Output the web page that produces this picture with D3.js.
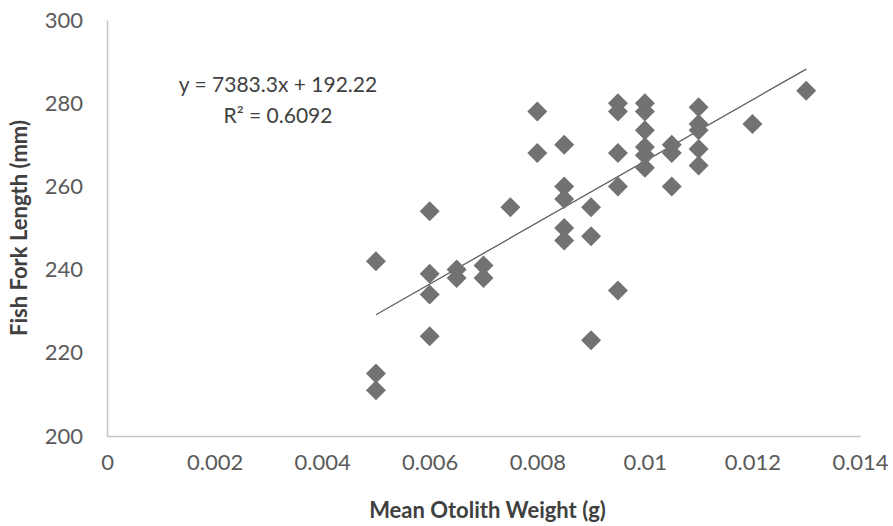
<!DOCTYPE html>
<html>
<head>
<meta charset="utf-8">
<script src="https://cdn.jsdelivr.net/npm/d3@7"></script>
<style>
  body { margin: 0; background: #fff; }
  svg { display: block; font-family: Lato, "Open Sans", sans-serif; }
</style>
</head>
<body>
<div id="chart"></div>
<script>
// values
const otolithWeight = [
  0.005, 0.005, 0.005,
  0.006, 0.006, 0.006, 0.006,
  0.0065, 0.0065,
  0.007, 0.007,
  0.0075,
  0.008, 0.008,
  0.0085, 0.0085, 0.0085, 0.0085, 0.0085,
  0.009, 0.009, 0.009,
  0.0095, 0.0095, 0.0095, 0.0095, 0.0095,
  0.01, 0.01, 0.01, 0.01, 0.01, 0.01,
  0.0105, 0.0105, 0.0105,
  0.011, 0.011, 0.011, 0.011, 0.011,
  0.012,
  0.013
];
const forkLength = [
  242, 215, 211,
  254, 239, 234, 224,
  240, 238,
  241, 238,
  255,
  278, 268,
  270, 260, 257, 250, 247,
  255, 248, 223,
  280, 278, 268, 260, 235,
  280, 278, 273.5, 269.5, 267.5, 264.5,
  270, 268, 260,
  279, 275, 273.5, 269, 265,
  275,
  283
];
const xTicks = [0, 0.002, 0.004, 0.006, 0.008, 0.01, 0.012, 0.014];
const yTicks = [200, 220, 240, 260, 280, 300];
const trendSlope = 7383.3;
const trendIntercept = 192.22;
const equationLines = ["y = 7383.3x + 192.22", "R² = 0.6092"];

const WIDTH = 893, HEIGHT = 526;
const MARGIN = { TOP: 20, BOTTOM: 90, LEFT: 107, RIGHT: 33 };

const svg = d3.select("#chart")
  .append("svg")
  .attr("width", WIDTH)
  .attr("height", HEIGHT);

const x = d3.scaleLinear().domain([0, 0.014]).range([MARGIN.LEFT, WIDTH - MARGIN.RIGHT]);
const y = d3.scaleLinear().domain([200, 300]).range([HEIGHT - MARGIN.BOTTOM, MARGIN.TOP]);

// AXES
const xAxis = d3.axisBottom(x).tickValues(xTicks).tickSize(0).tickPadding(18)
  .tickFormat(d => d === 0 ? "0" : String(+d.toFixed(3)));
const yAxis = d3.axisLeft(y).tickValues(yTicks).tickSize(0).tickPadding(24);

const xg = svg.append("g")
  .attr("transform", `translate(0, ${y(200)})`)
  .call(xAxis);
const yg = svg.append("g")
  .attr("transform", `translate(${x(0)}, 0)`)
  .call(yAxis);

[xg, yg].forEach(g => {
  g.select(".domain").attr("stroke", "#c4c4c4").attr("stroke-width", 1.5);
  g.selectAll("text")
    .attr("font-family", "Lato, sans-serif")
    .attr("font-size", 22)
    .attr("fill", "#5a5a5a");
});

// AXIS TITLES
svg.append("text")
  .attr("x", (x(0) + x(0.014)) / 2 + 4)
  .attr("y", 518)
  .attr("text-anchor", "middle")
  .attr("font-size", 22)
  .attr("font-weight", "bold")
  .attr("fill", "#404040")
  .text("Mean Otolith Weight (g)");

svg.append("text")
  .attr("transform", `translate(27, ${(y(200) + y(300)) / 2}) rotate(-90)`)
  .attr("text-anchor", "middle")
  .attr("font-size", 22)
  .attr("font-weight", "bold")
  .attr("fill", "#404040")
  .text("Fish Fork Length (mm)");

// TREND LINE
const xExtent = d3.extent(otolithWeight);
svg.append("line")
  .attr("x1", x(xExtent[0]))
  .attr("y1", y(trendSlope * xExtent[0] + trendIntercept))
  .attr("x2", x(xExtent[1]))
  .attr("y2", y(trendSlope * xExtent[1] + trendIntercept))
  .attr("stroke", "#5e5e5e")
  .attr("stroke-width", 1.3);

// POINTS
const diamond = d3.symbol().type(d3.symbolSquare).size(200);
svg.append("g")
  .selectAll("path")
  .data(otolithWeight.map((w, i) => ({ w, l: forkLength[i] })))
  .join("path")
  .attr("transform", d => `translate(${x(d.w)}, ${y(d.l)}) rotate(45)`)
  .attr("d", diamond)
  .attr("fill", "#727272");

// EQUATION
svg.append("g")
  .selectAll("text")
  .data(equationLines)
  .join("text")
  .attr("x", 278)
  .attr("y", (d, i) => 92 + i * 31)
  .attr("text-anchor", "middle")
  .attr("font-size", 21)
  .attr("fill", "#404040")
  .text(d => d);
</script>
</body>
</html>
